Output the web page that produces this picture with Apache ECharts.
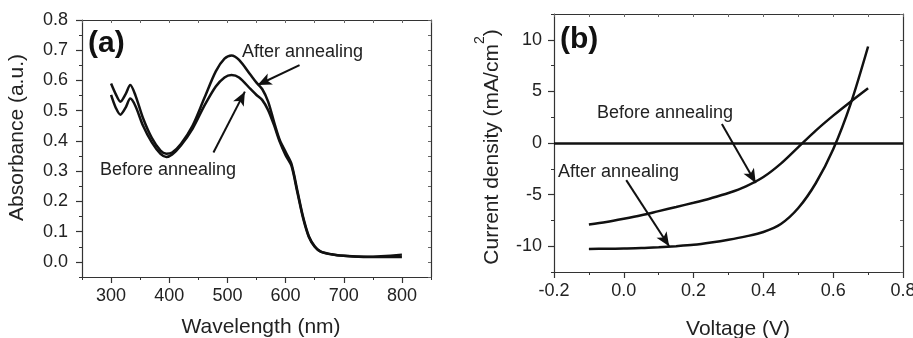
<!DOCTYPE html>
<html>
<head>
<meta charset="utf-8">
<script src="https://cdn.jsdelivr.net/npm/echarts@6/dist/echarts.min.js"></script>
<style>
  html, body { margin: 0; padding: 0; background: #fff; }
  #chart { width: 913px; height: 338px; }
</style>
</head>
<body>
<div id="chart"></div>
<script>
// (a) absorption spectra
const wavelength = [300, 308, 316, 325, 333, 342, 355, 370, 385, 395, 405, 420, 440, 460, 480, 495, 507, 520, 540, 550, 560, 570, 580, 590, 600, 610, 620, 630, 640, 650, 660, 680, 700, 740, 800];
const absAfter = [0.59, 0.555, 0.53, 0.555, 0.585, 0.55, 0.475, 0.41, 0.368, 0.358, 0.362, 0.39, 0.45, 0.54, 0.63, 0.672, 0.683, 0.668, 0.618, 0.593, 0.571, 0.53, 0.464, 0.403, 0.364, 0.325, 0.238, 0.15, 0.085, 0.052, 0.035, 0.025, 0.02, 0.017, 0.024];
const absBefore = [0.552, 0.51, 0.487, 0.51, 0.54, 0.515, 0.45, 0.395, 0.357, 0.347, 0.355, 0.385, 0.44, 0.515, 0.58, 0.61, 0.618, 0.61, 0.571, 0.552, 0.535, 0.502, 0.453, 0.397, 0.353, 0.318, 0.232, 0.145, 0.082, 0.05, 0.034, 0.024, 0.02, 0.016, 0.016];
const waveTicks = [300, 400, 500, 600, 700, 800];
const absTicks = [0, 0.1, 0.2, 0.3, 0.4, 0.5, 0.6, 0.7, 0.8];

// (b) J-V curves
const voltage = [-0.1, -0.05, 0, 0.05, 0.1, 0.15, 0.2, 0.25, 0.3, 0.35, 0.4, 0.45, 0.5, 0.55, 0.6, 0.65, 0.7];
const jBefore = [-7.89, -7.65, -7.34, -7.0, -6.6, -6.2, -5.79, -5.35, -4.85, -4.2, -3.3, -2.0, -0.4, 1.2, 2.65, 4.0, 5.3];
const jAfter = [-10.26, -10.25, -10.22, -10.18, -10.1, -10.0, -9.87, -9.65, -9.38, -9.05, -8.62, -7.85, -6.3, -3.9, -0.6, 3.8, 9.35];
const voltTicks = [-0.2, 0, 0.2, 0.4, 0.6, 0.8];
const currTicks = [-10, -5, 0, 5, 10];

const FONT = 'Liberation Sans, Arial, sans-serif';
const INK = '#111';
const AXIS = '#333';

const pairs = (xs, ys) => xs.map((x, i) => [x, ys[i]]);

// helper: main axis (line, minor ticks, labels), overlay (major ticks), opposite side (inner ticks)
function axisSet(dim, grid, min, max, step, ticks, fmt, margin) {
  const side = dim === 'x' ? ['bottom', 'top'] : ['left', 'right'];
  const base = { gridIndex: grid, type: 'value', min: min, max: max, interval: step, splitLine: { show: false } };
  return [
    Object.assign({}, base, {
      position: side[0],
      axisLine: { show: true, onZero: false, lineStyle: { color: AXIS, width: 1.2 } },
      axisTick: { show: true, length: 3, lineStyle: { color: AXIS, width: 1 } },
      axisLabel: { customValues: ticks, formatter: fmt, fontSize: 18, color: '#222', fontFamily: FONT, margin: margin }
    }),
    Object.assign({}, base, {
      position: side[0],
      axisLine: { show: false, onZero: false },
      axisTick: { show: true, customValues: ticks, length: 6, lineStyle: { color: AXIS, width: 1.2 } },
      axisLabel: { show: false }
    }),
    Object.assign({}, base, {
      position: side[1],
      axisLine: { show: true, onZero: false, lineStyle: { color: AXIS, width: 1.2 } },
      axisTick: { show: true, inside: true, length: 3, lineStyle: { color: '#666', width: 1 } },
      axisLabel: { show: false }
    })
  ];
}

const oneDec = v => v.toFixed(1);
const intFmt = v => String(Math.round(v));

const arrowLine = { color: INK, width: 2 };
const arrow = (x1, y1, x2, y2) => [
  { coord: [x1, y1], symbol: 'none', lineStyle: arrowLine },
  { coord: [x2, y2], symbol: 'arrow', symbolSize: [9, 14] }
];

const lineSeries = (name, xi, yi, data, markLine) => ({
  name: name,
  type: 'line',
  xAxisIndex: xi,
  yAxisIndex: yi,
  data: data,
  smooth: 0.3,
  showSymbol: false,
  lineStyle: { color: INK, width: 2.5 },
  markLine: markLine
});

const mkLine = (data) => ({
  silent: true,
  symbol: ['none', 'none'],
  label: { show: false },
  lineStyle: { color: INK, width: 2, type: 'solid' },
  data: data
});

const txt = (text, x, y, size, extra) => ({
  type: 'text',
  x: x,
  y: y,
  silent: true,
  style: Object.assign({
    text: text,
    fontSize: size,
    fontFamily: FONT,
    fill: '#222',
    align: 'left',
    textAlign: 'left',
    verticalAlign: 'middle',
    textVerticalAlign: 'middle'
  }, extra || {})
});

const chart = echarts.init(document.getElementById('chart'), null, { renderer: 'canvas' });

chart.setOption({
  animation: false,
  backgroundColor: '#fff',
  textStyle: { fontFamily: FONT },
  grid: [
    { left: 82, top: 20, width: 349, height: 257, outerBoundsMode: 'none', containLabel: false },
    { left: 554, top: 14, width: 349, height: 258, outerBoundsMode: 'none', containLabel: false }
  ],
  xAxis: [
    ...axisSet('x', 0, 250, 850, 50, waveTicks, intFmt, 10),
    ...axisSet('x', 1, -0.2, 0.8, 0.1, voltTicks, oneDec, 10)
  ],
  yAxis: [
    ...axisSet('y', 0, -0.05, 0.8, 0.05, absTicks, oneDec, 14),
    ...axisSet('y', 1, -12.5, 12.5, 2.5, currTicks, intFmt, 12)
  ],
  series: [
    lineSeries('After annealing (a)', 0, 0, pairs(wavelength, absAfter),
      mkLine([arrow(624, 0.651, 552, 0.585)])),
    lineSeries('Before annealing (a)', 0, 0, pairs(wavelength, absBefore),
      mkLine([arrow(476, 0.362, 530, 0.563)])),
    lineSeries('Before annealing (b)', 3, 3, pairs(voltage, jBefore),
      mkLine([arrow(0.281, 1.83, 0.378, -3.87)])),
    lineSeries('After annealing (b)', 3, 3, pairs(voltage, jAfter),
      mkLine([
        { yAxis: 0, symbol: 'none', lineStyle: { color: INK, width: 2.5 } },
        arrow(0.007, -3.6, 0.13, -10.0)
      ]))
  ],
  graphic: [
    // panel (a)
    txt('(a)', 88, 44, 30, { fontWeight: 'bold', fill: '#111' }),
    txt('After annealing', 242, 52, 18),
    txt('Before annealing', 100, 170, 18),
    txt('Absorbance (a.u.)', 17.5, 137.5, 21, { align: 'center', textAlign: 'center' }),
    txt('Wavelength (nm)', 261, 327, 21, { align: 'center', textAlign: 'center' }),
    // panel (b)
    txt('(b)', 560, 40, 30, { fontWeight: 'bold', fill: '#111' }),
    txt('Before annealing', 597, 113, 18),
    txt('After annealing', 558, 172, 18),
    txt('Voltage (V)', 738, 329, 21, { align: 'center', textAlign: 'center' })
  ].map((g, i) => (i === 3 ? Object.assign(g, { rotation: Math.PI / 2 }) : g)).concat([
    {
      type: 'text',
      x: 488,
      y: 147,
      rotation: Math.PI / 2,
      silent: true,
      style: {
        text: '{m|Current density (mA/cm}{s|2}{m|)}',
        fontFamily: FONT,
        fill: '#222',
        align: 'center',
        textAlign: 'center',
        verticalAlign: 'middle',
        textVerticalAlign: 'middle',
        rich: {
          m: { fontSize: 21, lineHeight: 30, verticalAlign: 'bottom', fontFamily: FONT, fill: '#222' },
          s: { fontSize: 14, lineHeight: 30, verticalAlign: 'top', fontFamily: FONT, fill: '#222' }
        }
      }
    }
  ])
});
</script>
</body>
</html>
